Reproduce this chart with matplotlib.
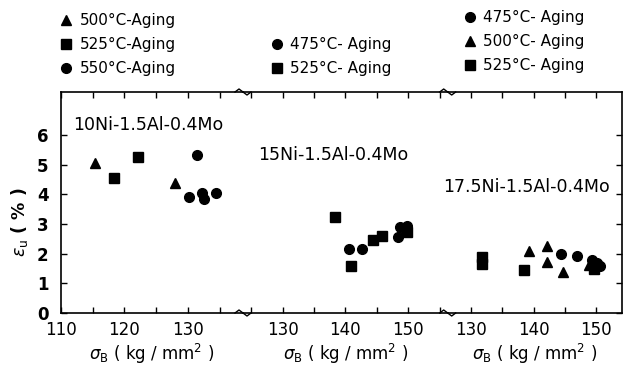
import matplotlib
matplotlib.use("Agg")
import matplotlib.pyplot as plt

# ---- data ----
# 10Ni-1.5Al-0.4Mo
ni10_500_x = [115.4, 127.9]
ni10_500_y = [5.07, 4.39]
ni10_525_x = [118.4, 122.1]
ni10_525_y = [4.56, 5.27]
ni10_550_x = [131.4, 130.2, 132.2, 132.6, 134.5]
ni10_550_y = [5.33, 3.90, 4.05, 3.83, 4.03]
# 15Ni-1.5Al-0.4Mo
ni15_475_x = [140.6, 142.7, 148.4, 148.7, 149.8]
ni15_475_y = [2.16, 2.16, 2.55, 2.90, 2.92]
ni15_525_x = [138.3, 140.9, 144.4, 145.8, 149.8]
ni15_525_y = [3.23, 1.58, 2.46, 2.61, 2.72]
# 17.5Ni-1.5Al-0.4Mo
ni17_475_x = [144.4, 146.9, 149.3, 150.1, 150.6]
ni17_475_y = [1.99, 1.92, 1.79, 1.67, 1.58]
ni17_500_x = [139.3, 142.2, 142.2, 144.7, 148.8]
ni17_500_y = [2.10, 2.26, 1.73, 1.39, 1.62]
ni17_525_x = [131.8, 131.8, 138.5, 149.6]
ni17_525_y = [1.88, 1.65, 1.45, 1.50]

seg_limits = [(110.0, 138.7), (123.7, 156.3), (126.3, 154.1)]
seg_labeled_ticks = [[110, 120, 130], [130, 140, 150], [130, 140, 150]]
y_ticks = [0, 1, 2, 3, 4, 5, 6]
alloy_names = ["10Ni-1.5Al-0.4Mo", "15Ni-1.5Al-0.4Mo", "17.5Ni-1.5Al-0.4Mo"]
x_label = r"$\sigma_{\rm B}$ ( kg / mm$^2$ )"
y_label = r"$\varepsilon_{\rm u}$ ( % )"

plt.rcParams['font.family'] = ['DejaVu Sans']

W, H = 625, 365
fig = plt.figure(figsize=(W / 100, H / 100), dpi=100)

top_px, bot_px = 92, 313
xs_px = [61, 243, 447.7, 622]
axes = []
for i in range(3):
    l, r = xs_px[i], xs_px[i + 1]
    ax = fig.add_axes([l / W, (H - bot_px) / H, (r - l) / W, (bot_px - top_px) / H])
    axes.append(ax)

ms = 7
kw = dict(linestyle='none', color='black', markersize=ms)
ax1, ax2, ax3 = axes
h1a, = ax1.plot(ni10_500_x, ni10_500_y, marker='^', label="500°C-Aging", **kw)
h1b, = ax1.plot(ni10_525_x, ni10_525_y, marker='s', label="525°C-Aging", **kw)
h1c, = ax1.plot(ni10_550_x, ni10_550_y, marker='o', label="550°C-Aging", **kw)
h2a, = ax2.plot(ni15_475_x, ni15_475_y, marker='o', label="475°C- Aging", **kw)
h2b, = ax2.plot(ni15_525_x, ni15_525_y, marker='s', label="525°C- Aging", **kw)
h3a, = ax3.plot(ni17_475_x, ni17_475_y, marker='o', label="475°C- Aging", **kw)
h3b, = ax3.plot(ni17_500_x, ni17_500_y, marker='^', label="500°C- Aging", **kw)
h3c, = ax3.plot(ni17_525_x, ni17_525_y, marker='s', label="525°C- Aging", **kw)

for i, ax in enumerate(axes):
    lo, hi = seg_limits[i]
    ax.set_xlim(lo, hi)
    ax.set_ylim(0, 7.45)
    minor = [v for v in range(105, 160, 5) if lo <= v < hi]
    ax.set_xticks(minor)
    ax.set_xticklabels([str(v) if v in seg_labeled_ticks[i] else "" for v in minor])
    ax.tick_params(axis='x', direction='in', top=True, length=4, width=1.0,
                   labelsize=12, pad=6)
    for s in ax.spines.values():
        s.set_linewidth(1.2)
    ax.set_xlabel(x_label, fontsize=12, labelpad=2)
    if i == 0:
        ax.spines['right'].set_visible(False)
        ax.set_yticks(y_ticks)
        ax.set_yticklabels([str(v) for v in y_ticks], fontweight='bold', fontsize=12)
        ax.tick_params(axis='y', direction='in', length=4, width=1.0, pad=9)
    elif i == 1:
        ax.spines['left'].set_visible(False)
        ax.spines['right'].set_visible(False)
        ax.set_yticks([])
    else:
        ax.spines['left'].set_visible(False)
        ax.set_yticks(y_ticks)
        ax.tick_params(axis='y', direction='in', left=False, right=True,
                       labelleft=False, length=4, width=1.0)
    ax.set_facecolor('none')

# axis breaks
for ax in axes[1:]:
    bb = ax.get_position()
    wpx = bb.width * W
    hpx = bb.height * H
    dx = 4 / wpx
    dy = 3 / hpx
    for yb in (0, 1):
        ax.plot([-2 * dx, -dx, dx, 2 * dx], [yb, yb + dy, yb - dy, yb],
                transform=ax.transAxes, color='black', lw=1.0, clip_on=False)

fig.text(19 / W, 1 - 222 / H, y_label, rotation=90, fontsize=12.5,
         fontweight='bold', ha='center', va='center')

ax1.text(111.9, 6.34, alloy_names[0], fontsize=12.5, ha='left', va='center')
ax2.text(126.1, 5.33, alloy_names[1], fontsize=12.5, ha='left', va='center')
ax3.text(125.6, 4.26, alloy_names[2], fontsize=12.5, ha='left', va='center')

lkw = dict(loc='upper left', frameon=False, fontsize=11, handlelength=1.0,
           handletextpad=0.4, borderpad=0, borderaxespad=0, labelspacing=0.6,
           markerscale=1.0)
fig.legend(handles=[h1a, h1b, h1c], bbox_to_anchor=(58 / W, 1 - 13 / H), **lkw)
fig.legend(handles=[h2a, h2b], bbox_to_anchor=(269 / W, 1 - 37 / H), **lkw)
fig.legend(handles=[h3a, h3b, h3c], bbox_to_anchor=(462 / W, 1 - 10 / H), **lkw)

fig.savefig("out.png", dpi=100)
